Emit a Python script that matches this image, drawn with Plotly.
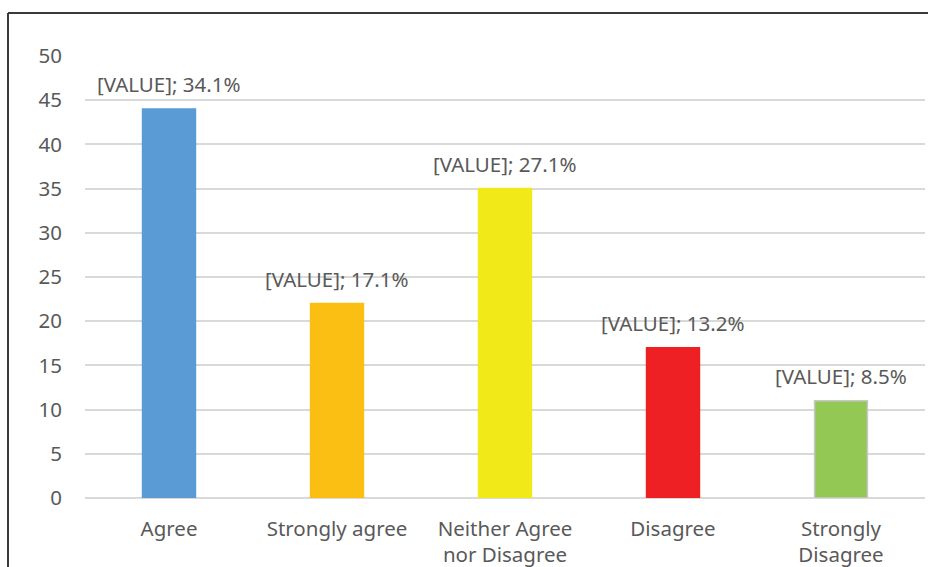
import plotly.graph_objects as go

categories = ["Agree", "Strongly agree", "Neither Agree<br>nor Disagree", "Disagree", "Strongly<br>Disagree"]
values = [44, 22, 35, 17, 11]
percents = ["34.1%", "17.1%", "27.1%", "13.2%", "8.5%"]
colors = ["#5B9BD5", "#FBBF14", "#F2E918", "#EE2024", "#92C853"]
outline = ["#5B9BD5", "#FBBF14", "#F2E918", "#EE2024", "#C8C8C8"]

W, H = 928, 567
ml, mr, mt, mb = 85, 3, 56, 69
pw = W - ml - mr
ph = H - mt - mb

FONT = "Noto Sans"
FS = 20.5
GRAY = "#595959"

fig = go.Figure()
fig.add_trace(go.Bar(
    x=categories, y=values,
    marker=dict(color=colors, line=dict(color=outline, width=1.5)),
    width=0.315,
    cliponaxis=False,
    hoverinfo="skip",
))

for c, v, p in zip(categories, values, percents):
    fig.add_annotation(x=c, y=v, text="[VALUE]; " + p, showarrow=False,
                       yanchor="bottom", yshift=9,
                       font=dict(family=FONT, size=FS, color=GRAY))

# outer chart frame: only left and top edges are visible in the crop
bx0 = (8 - ml) / pw
by1 = (H - 13 - mb) / ph
by0 = -(mb + 5) / ph
bx1 = (W + 5 - ml) / pw
border = dict(color="#3A3A3A", width=2)
fig.add_shape(type="line", xref="paper", yref="paper", x0=bx0, x1=bx0, y0=by0, y1=by1,
              line=border, layer="above")
fig.add_shape(type="line", xref="paper", yref="paper", x0=bx0, x1=bx1, y0=by1, y1=by1,
              line=border, layer="above")

fig.update_layout(
    width=W, height=H,
    margin=dict(l=ml, r=mr, t=mt, b=mb, pad=0, autoexpand=False),
    plot_bgcolor="white", paper_bgcolor="white",
    showlegend=False,
    font=dict(family=FONT, size=FS, color=GRAY),
    xaxis=dict(showgrid=False, showline=False, ticks="", ticklabelstandoff=16, automargin=False,
               tickfont=dict(family=FONT, size=FS, color=GRAY),
               range=[-0.5, 4.5], fixedrange=True),
    yaxis=dict(range=[0, 50], dtick=5, showgrid=True, gridcolor="#D9D9D9", gridwidth=1.5,
               zeroline=True, zerolinecolor="#D9D9D9", zerolinewidth=1.5,
               showline=False, ticks="", ticklabelstandoff=22, automargin=False,
               tickfont=dict(family=FONT, size=FS, color=GRAY), fixedrange=True),
)

fig.write_html("out.html", config={"displayModeBar": False},
               post_script="document.body.style.margin='0';document.body.style.overflow='hidden';"
                           "document.documentElement.style.overflow='hidden';")
